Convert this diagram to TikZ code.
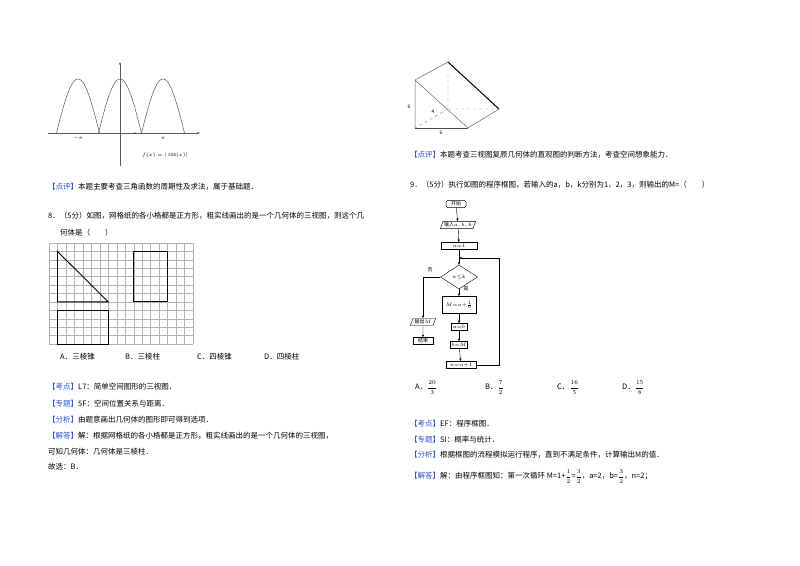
\documentclass[tikz,border=0pt]{standalone}
\usepackage{fontspec}
\setmainfont{Noto Sans CJK SC}
\usetikzlibrary{shapes.geometric,arrows.meta}
\definecolor{lb}{RGB}{40,80,210}
\newcommand{\tg}[1]{\textcolor{lb}{【#1】}}
\newcommand{\fr}[2]{\raisebox{-0.5pt}{\fontsize{6}{6}\selectfont$\displaystyle\frac{#1}{#2}$}}
\begin{document}
\begin{tikzpicture}[x=1pt,y=-1pt,
 txt/.style={anchor=west,inner sep=0,font=\fontsize{7.5}{9}\selectfont},
 sm/.style={inner sep=0,font=\fontsize{5}{6}\selectfont},
 fbox/.style={draw,line width=0.5pt,inner sep=1pt,minimum height=7pt,font=\fontsize{5}{6}\selectfont},
 fpar/.style={draw,trapezium,trapezium left angle=70,trapezium right angle=110,inner sep=1pt,minimum height=7pt,font=\fontsize{5}{6}\selectfont},
 ar/.style={-{Stealth[length=3pt]},line width=0.4pt}]
\fill[white] (0,0) rectangle (800,565);
% --- graph
\draw[-{Stealth[length=3pt]},line width=0.4pt,gray!70!black] (48,133)--(200,133);
\draw[-{Stealth[length=3pt]},line width=0.4pt,gray!70!black] (120,166)--(120,62);
\foreach \c in {78,120,163}{
 \draw[gray!70!black,line width=0.5pt] plot[domain=-21.5:21.5,samples=40] ({\c+\x},{133-54*cos(90*\x/21.5)});}
\fill (135,133) circle (0.7);
\node[sm] (mpi) at (78,138) {$-\pi$};
\node[sm] (ppi) at (163,138) {$\pi$};
\node[sm] (fx) at (165,155) {$f(x)=|\cos(x)|$};
\node[txt] (t1) at (48,187) {\tg{点评}本题主要考查三角函数的周期性及求法，属于基础题．};
\node[txt] (t2) at (48,216) {8．（5分）如图，网格纸的各小格都是正方形，粗实线画出的是一个几何体的三视图，则这个几};
\node[txt] (t3) at (60,233) {何体是（　　）};
% --- grid
\begin{scope}[shift={(49,243)},x=8.47pt,y=-8.42pt]
\foreach \i in {0,...,17} \draw[gray!60,line width=0.4pt] (\i,0)--(\i,12);
\foreach \j in {0,...,12} \draw[gray!60,line width=0.4pt] (0,\j)--(17,\j);
\draw[line width=0.9pt] (1,1)--(1,7)--(7,7)--cycle;
\draw[line width=0.9pt] (10,1) rectangle (14,7);
\draw[line width=0.9pt] (1,8) rectangle (7,12);
\end{scope}
\node[txt] (oA) at (60,357) {A．三棱锥};
\node[txt] (oB) at (125,357) {B．三棱柱};
\node[txt] (oC) at (197,357) {C．四棱锥};
\node[txt] (oD) at (264,357) {D．四棱柱};
\node[txt] (k1) at (48,387) {\tg{考点}L7：简单空间图形的三视图．};
\node[txt] (k2) at (48,404) {\tg{专题}5F：空间位置关系与距离．};
\node[txt] (k3) at (48,420) {\tg{分析}由题意画出几何体的图形即可得到选项．};
\node[txt] (k4) at (48,436) {\tg{解答}解：根据网格纸的各小格都是正方形，粗实线画出的是一个几何体的三视图，};
\node[txt] (k5) at (48,452) {可知几何体：几何体是三棱柱．};
\node[txt] (k6) at (48,467) {故选：B．};
% --- prism
\draw[gray!80!black,line width=0.5pt] (448,62)--(415,80)--(415,128) (415,80)--(468,128)--(499,109);
\draw[line width=1pt] (448,62)--(499,109);
\draw[line width=1pt,gray!60!black] (415,128)--(468,128);
\draw[dashed,gray,line width=0.4pt] (448,62)--(448,109)--(499,109) (448,109)--(415,128);
\node[sm] (l6a) at (409,107) {6};
\node[sm] (l4) at (433,112) {4};
\node[sm] (l6b) at (441,133) {6};
\node[txt] (r1) at (410,155) {\tg{点评}本题考查三视图复原几何体的直观图的判断方法，考查空间想象能力．};
\node[txt] (r2) at (410,185) {9．（5分）执行如图的程序框图，若输入的a，b，k分别为1，2，3，则输出的M=（　　）};
% --- flowchart
\node[fbox,rounded corners=1.5pt,minimum width=20pt] (st) at (456,204) {开始};
\node[fpar,minimum width=30pt] (in) at (458,225) {输入$a,b,k$};
\node[fbox,minimum width=36pt] (n1) at (459,246) {$n{=}1$};
\node[draw,diamond,aspect=1.6,inner sep=0.5pt,minimum width=37pt,minimum height=24pt,font=\fontsize{5}{6}\selectfont] (dm) at (459,277) {$n{\le}k$};
\node[fbox,minimum width=34pt,minimum height=17pt] (mm) at (459,305) {$M{=}a{+}\frac{1}{b}$};
\node[fbox,minimum width=16pt] (ab) at (459,327) {$a{=}b$};
\node[fbox,minimum width=16pt] (bm) at (459,345) {$b{=}M$};
\node[fbox,minimum width=30pt] (nn) at (461,365) {$n{=}n{+}1$};
\node[fpar,minimum width=22pt] (out) at (423,322) {输出$M$};
\node[fbox,minimum width=20pt] (en) at (423,341) {结束};
\node[sm] (no) at (430,270) {否};
\node[sm] (yes) at (466,289) {是};
\coordinate (lp) at (459,258);
\draw[ar] (st)--(in);
\draw[ar] (in)--(n1);
\draw[ar] (n1)--(dm);
\draw[ar] (dm)--(mm);
\draw[ar] (mm)--(ab);
\draw[ar] (ab)--(bm);
\draw[ar] (bm)--(nn);
\draw[ar] (dm.west)-|(out);
\draw[ar] (out)--(en);
\draw[ar] (nn.east)-|(499,258)--(lp);
\node[txt] (q1) at (415,388) {A．\fr{20}{3}};
\node[txt] (q2) at (485,388) {B．\fr{7}{2}};
\node[txt] (q3) at (557,388) {C．\fr{16}{5}};
\node[txt] (q4) at (622,388) {D．\fr{15}{8}};
\node[txt] (s1) at (410,424) {\tg{考点}EF：程序框图．};
\node[txt] (s2) at (410,440) {\tg{专题}SI：概率与统计．};
\node[txt] (s3) at (410,455) {\tg{分析}根据框图的流程模拟运行程序，直到不满足条件，计算输出M的值．};
\node[txt] (s4) at (410,477) {\tg{解答}解：由程序框图知：第一次循环 M=1+\fr{1}{2}=\fr{3}{2}，a=2，b=\fr{3}{2}，n=2；};
\end{tikzpicture}
\end{document}
